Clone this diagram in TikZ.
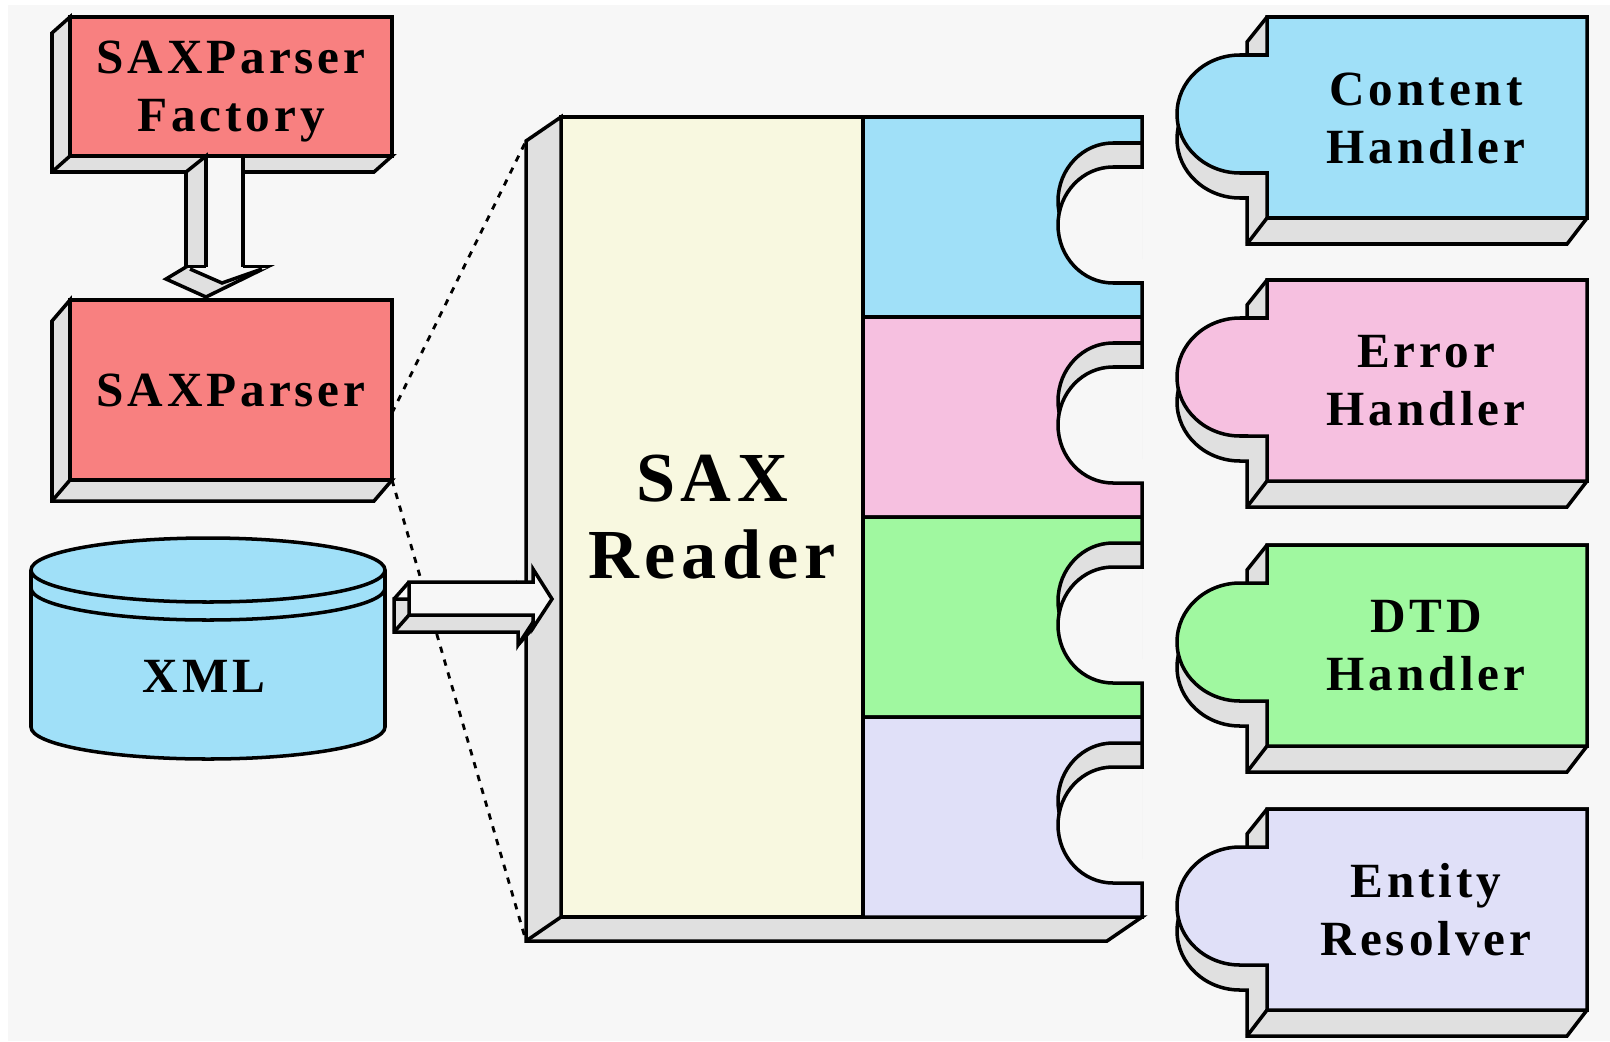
\documentclass[tikz,border=0pt]{standalone}
\usepackage{fontspec}
\setmainfont{Liberation Serif}[LetterSpace=8]
\usepackage{tikz}
\usetikzlibrary{positioning, calc}

\definecolor{bgfill}{HTML}{F7F7F7}
\definecolor{sidegray}{HTML}{E0E0E0}
\definecolor{parserred}{HTML}{F88080}
\definecolor{readercream}{HTML}{F8F8E0}
\definecolor{contentblue}{HTML}{A0E0F8}
\definecolor{errorpink}{HTML}{F6C0E0}
\definecolor{dtdgreen}{HTML}{A0F8A0}
\definecolor{entitylilac}{HTML}{E0E0F8}

\tikzstyle{face} = [draw=black, line width=1pt, line join=miter]
\tikzstyle{side} = [face, fill=sidegray]
\tikzstyle{boxtext} = [font=\bfseries\fontsize{14}{16.5}\selectfont, align=center, inner sep=0pt]
\tikzstyle{parserbox} = [rectangle, face, fill=parserred, minimum width=32.2mm, outer sep=0pt, boxtext]
\tikzstyle{readerbox} = [rectangle, face, fill=readercream, minimum width=30.2mm, minimum height=80mm, outer sep=0pt, align=center, font=\bfseries\fontsize{20}{22}\selectfont]
\tikzstyle{tether} = [line width=0.8pt, dash pattern=on 1.8pt off 2pt]

% one coloured strip of the reader with its socket: #1 top, #2 colour
\newcommand{\readerband}[2]{%
  \fill[#2] (863,#1) rectangle (1142,#1+200);
  \fill[sidegray] (1142,#1+26) -- (1113,#1+26) arc[start angle=90, end angle=270, x radius=5.5mm, y radius=5.8mm] -- (1142,#1+142) -- cycle;
  \draw[face] (1142,#1+26) -- (1113,#1+26) arc[start angle=90, end angle=270, x radius=5.5mm, y radius=5.8mm];
  \fill[bgfill] (1142,#1+50) -- (1113,#1+50) arc[start angle=90, end angle=270, x radius=5.5mm, y radius=5.8mm] -- (1142,#1+166) -- cycle;
  \draw[face] (863,#1) -- (1142,#1) -- (1142,#1+50) -- (1113,#1+50) arc[start angle=90, end angle=270, x radius=5.5mm, y radius=5.8mm] -- (1142,#1+166) -- (1142,#1+200) -- (863,#1+200) -- cycle;
}

% a handler plug: #1 name, #2 top, #3 colour, #4 text
\newcommand{\handlerpiece}[4]{%
  \draw[side] (1267,#2) -- (1247,#2+25) -- (1247,#2+63) -- (1240,#2+63) arc[start angle=90, end angle=270, x radius=6.3mm, y radius=5.9mm] -- (1247,#2+181) -- (1247,#2+227) -- (1567,#2+227) -- (1587,#2+201) -- (1587,#2) -- cycle;
  \draw[face, fill=#3] (1267,#2) -- (1267,#2+38) -- (1240,#2+38) arc[start angle=90, end angle=270, x radius=6.3mm, y radius=5.9mm] -- (1267,#2+156) -- (1267,#2+201) -- (1587,#2+201) -- (1587,#2) -- cycle;
  \draw[face] (1267,#2+201) -- (1247,#2+227);
  \node (#1) [boxtext] at (1426,#2+101) {#4};
}

\begin{document}
\begin{tikzpicture}[x=0.1mm, y=-0.1mm]
    % canvas
    \fill[white] (0,0) rectangle (1610,1041);
    \fill[bgfill] (8,5) rectangle (1610,1041);
    \useasboundingbox (0,0) rectangle (1610,1041);

    % parser factory with its depth
    \node (factory) [parserbox, minimum height=13.9mm, text depth=0pt] at (231,86.5) {SAXParser\\Factory};
    \draw[side] (factory.north west) -- ++(-18,16) -- ($(factory.south west)+(-18,16)$) -- ($(factory.south east)+(-18,16)$) -- (factory.south east) -- (factory.south west) -- cycle;
    \draw[face] (factory.south west) -- ++(-18,16);

    % block arrow down
    \draw[side] (206,156) -- (186,172) -- (186,267) -- (206,267) -- cycle;
    \draw[side] (186,267) -- (166,279) -- (206,297) -- (267,267) -- cycle;
    \fill[bgfill] (186,268) -- (222,283) -- (267,268) -- cycle;
    \draw[face] (190,269) -- (222,283) -- (262,269);
    \fill[bgfill] (206,157.5) rectangle (243,269.5);
    \draw[face] (206,156) -- (206,267) (243,156) -- (243,267);

    % parser
    \node (parser) [parserbox, minimum height=18mm] at (231,390) {SAXParser};
    \draw[side] (parser.north west) -- ++(-18,21) -- ($(parser.south west)+(-18,21)$) -- ($(parser.south east)+(-18,21)$) -- (parser.south east) -- (parser.south west) -- cycle;
    \draw[face] (parser.south west) -- ++(-18,21);

    % xml store
    \fill[contentblue] (31,570) -- (31,727) arc[start angle=180, end angle=360, x radius=17.7mm, y radius=3.2mm] -- (385,570) arc[start angle=0, end angle=180, x radius=17.7mm, y radius=3.2mm] -- cycle;
    \draw[face] (31,570) -- (31,727) arc[start angle=180, end angle=360, x radius=17.7mm, y radius=3.2mm] -- (385,570);
    \draw[face] (208,570) ellipse[x radius=17.7mm, y radius=3.2mm];
    \draw[face] (31,588) arc[start angle=180, end angle=360, x radius=17.7mm, y radius=3.2mm];
    \node (xml) [boxtext] at (204,676) {XML};

    % reader with its depth and the four sockets
    \node (reader) [readerbox] at (712,517) {SAX\\Reader};
    \draw[side] (reader.north west) -- ++(-35,24) -- ($(reader.south west)+(-35,24)$) -- (1107,941) -- (1142,917) -- (reader.south west) -- cycle;
    \draw[face] (reader.south west) -- ++(-35,24);
    \readerband{117}{contentblue}
    \readerband{317}{errorpink}
    \readerband{517}{dtdgreen}
    \readerband{717}{entitylilac}

    % handlers
    \handlerpiece{content}{17}{contentblue}{Content\\Handler}
    \handlerpiece{error}{280}{errorpink}{Error\\Handler}
    \handlerpiece{dtd}{545}{dtdgreen}{DTD\\Handler}
    \handlerpiece{entity}{809}{entitylilac}{Entity\\Resolver}

    % zoom lines
    \coordinate (reader-top) at ($(reader.north west)+(-35,24)$);
    \coordinate (reader-foot) at ($(reader.south west)+(-35,24)$);
    \draw[tether] ($(parser.east)+(0,23)$) -- (reader-top);
    \draw[tether] (parser.south east) -- (reader-foot);

    % block arrow into the reader
    \draw[side] (394,599) -- (518,599) -- (518,586) -- (537,616) -- (518,645) -- (518,632) -- (394,632) -- cycle;
    \draw[face, fill=bgfill] (409,582) -- (533,582) -- (533,569) -- (552,599) -- (533,628) -- (533,615) -- (409,615) -- cycle;
    \draw[face] (409,582) -- (394,599) (409,615) -- (394,632) (533,628) -- (518,645);
\end{tikzpicture}
\end{document}
